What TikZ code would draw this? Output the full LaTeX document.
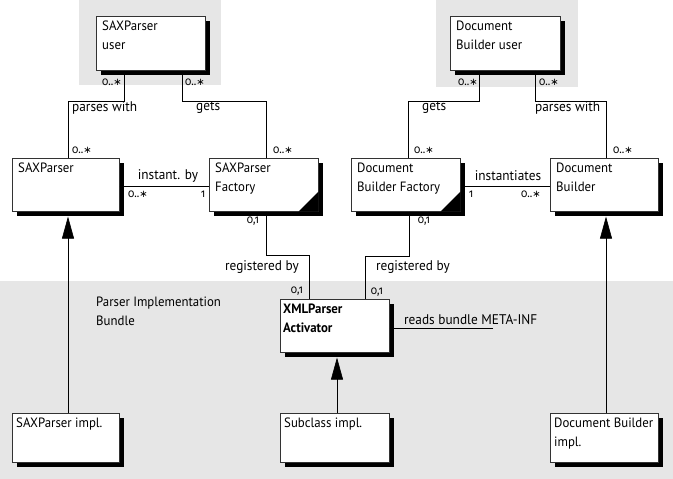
\documentclass[tikz,border=0pt]{standalone}
\usepackage{fontspec}
\setmainfont{PT Sans}[FakeStretch=0.95]
\newfontfamily\multfont{Fira Sans}[Numbers=OldStyle,FakeStretch=0.9]
\newfontfamily\starfont{DejaVu Sans}
\usetikzlibrary{arrows.meta,calc,shadows}
\definecolor{bandgray}{RGB}{230,230,230}
\newcommand\manystar{0..{\starfont\fontsize{10}{10}\selectfont ∗}}
\begin{document}
\begin{tikzpicture}[x=1pt,y=-1pt,
  umlbox/.style={draw=black!80, line width=0.6pt, fill=white, anchor=north west, inner sep=0pt,
    minimum width=108pt, minimum height=53pt,
    drop shadow={shadow xshift=5pt, shadow yshift=-5pt, fill=black, opacity=1}},
  implbox/.style={umlbox, minimum height=49pt},
  boxtext/.style={anchor=north west, inner sep=0pt, align=left, font=\fontsize{13.5}{19}\selectfont},
  lbl/.style={inner sep=0pt, font=\fontsize{14}{15}\selectfont},
  mult/.style={inner sep=0pt, font=\multfont\fontsize{11.5}{12}\selectfont},
  conn/.style={draw=black, line width=0.6pt},
  inh/.style={conn, -{Triangle[width=12pt,length=22pt]}},
]
\useasboundingbox (0,0) rectangle (673,479);
% gray areas
\fill[bandgray] (79,0) rectangle (221,85);
\fill[bandgray] (436,0) rectangle (578,87);
\fill[bandgray] (0,281) rectangle (673,479);

% boxes
\node[umlbox, minimum width=109pt, minimum height=54pt] (spu) at (96,16) {};
\node[umlbox, minimum width=110pt, minimum height=54pt] (dbu) at (450,16) {};
\node[umlbox, minimum width=107pt] (sp) at (12,158) {};
\node[umlbox, minimum width=109pt] (spf) at (209,158) {};
\node[umlbox, minimum width=109pt] (dbf) at (351,158) {};
\node[umlbox] (db) at (550,158) {};
\node[umlbox, minimum width=109pt] (act) at (280,299) {};
\node[implbox, minimum width=107pt] (spi) at (12,413) {};
\node[implbox, minimum width=109pt] (sub) at (280,413) {};
\node[implbox] (dbi) at (550,413) {};

% folded corners
\fill[black] (spf.south east) -- ++(-20,0) -- ++(20,-20) -- cycle;
\fill[black] (dbf.south east) -- ++(-20,0) -- ++(20,-20) -- cycle;

% box texts
\node[boxtext] at ($(spu.north west)+(6,5)$) {SAXParser\\user};
\node[boxtext] at ($(dbu.north west)+(6,5)$) {Document\\Builder user};
\node[boxtext] at ($(sp.north west)+(6,5)$) {SAXParser};
\node[boxtext] at ($(spf.north west)+(6,5)$) {SAXParser\\Factory};
\node[boxtext] at ($(dbf.north west)+(6,5)$) {Document\\Builder Factory};
\node[boxtext] at ($(db.north west)+(6,5)$) {Document\\Builder};
\node[boxtext, font=\fontsize{13.5}{19}\selectfont\bfseries] at ($(act.north west)+(3,5)$) {XMLParser\\Activator};
\node[boxtext] at ($(spi.north west)+(4,5)$) {SAXParser impl.};
\node[boxtext] at ($(sub.north west)+(4,5)$) {Subclass impl.};
\node[boxtext] at ($(dbi.north west)+(4,5)$) {Document Builder\\impl.};

% associations
\draw[conn] ($(spu.south west)+(28,0)$) -- ++(0,31) -| ($(sp.north west)+(56,0)$);
\draw[conn] ($(spu.south west)+(86,0)$) -- ++(0,31) -| ($(spf.north west)+(57,0)$);
\draw[conn] ($(sp.north east)+(0,28)$) -- ($(spf.north west)+(0,28)$);
\draw[conn] ($(spf.south west)+(57,0)$) -- ++(0,44) -| ($(act.north west)+(29,0)$);
\draw[conn] ($(dbf.south west)+(58,0)$) -- ++(0,45) -| ($(act.north west)+(85,0)$);
\draw[conn] ($(dbu.south west)+(29,0)$) -- ++(0,31) -| ($(dbf.north west)+(57,0)$);
\draw[conn] ($(dbu.south west)+(85,0)$) -- ++(0,31) -| ($(db.north west)+(56,0)$);
\draw[conn] ($(dbf.north east)+(0,28)$) -- ($(db.north west)+(0,28)$);
\coordinate (meta) at (493,328);
\draw[conn] ($(act.north east)+(0,29)$) -- (meta);

% inheritance
\draw[inh] ($(spi.north west)+(56,0)$) -- ($(sp.south west)+(56,5)$);
\draw[inh] ($(sub.north west)+(57,0)$) -- ($(act.south west)+(57,5)$);
\draw[inh] ($(dbi.north west)+(56,0)$) -- ($(db.south west)+(56,5)$);

% labels
\node[lbl, anchor=west] at (72,108) {parses with};
\node[lbl, anchor=west] at (196,108) {gets};
\node[lbl] at (168,176) {instant. by};
\node[lbl] at (262,267) {registered by};
\node[lbl] at (413,267) {registered by};
\node[lbl, anchor=west] at (404,320) {reads bundle META-INF};
\node[lbl, anchor=west] at (422,108) {gets};
\node[lbl, anchor=west] at (535,108) {parses with};
\node[lbl] at (508,176) {instantiates};
\node[lbl, anchor=north west, align=left, font=\fontsize{13.5}{19}\selectfont] at (96,297) {Parser Implementation\\Bundle};

% multiplicities
\node[mult] at (112,82) {\manystar};
\node[mult] at (195,82) {\manystar};
\node[mult] at (82,150) {\manystar};
\node[mult] at (283,150) {\manystar};
\node[mult] at (138,194) {\manystar};
\node[mult] at (203,194) {1};
\node[mult] at (253,221) {0,1};
\node[mult] at (297,291) {0,1};
\node[mult] at (377,292) {0,1};
\node[mult] at (468,82) {\manystar};
\node[mult] at (549,82) {\manystar};
\node[mult] at (424,150) {\manystar};
\node[mult] at (623,150) {\manystar};
\node[mult] at (471,194) {1};
\node[mult] at (531,194) {\manystar};
\node[mult] at (424,221) {0,1};
\end{tikzpicture}
\end{document}
